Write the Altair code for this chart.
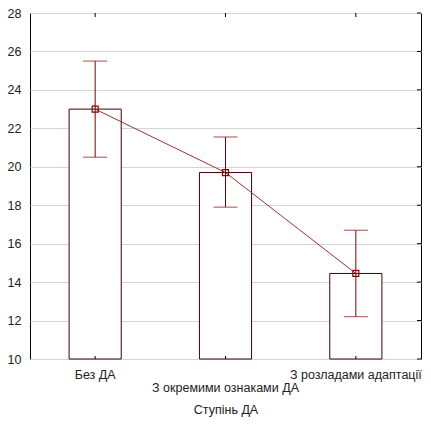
import altair as alt
import pandas as pd

categories = ["Без ДА", "З окремими ознаками ДА", "З розладами адаптації"]
means = [23.0, 19.7, 14.45]
lower = [20.5, 17.9, 12.2]
upper = [25.5, 21.55, 16.7]
y_ticks = [10, 12, 14, 16, 18, 20, 22, 24, 26, 28]

df = pd.DataFrame({"cat": categories, "mean": means, "lo": lower, "hi": upper})
tick_df = pd.DataFrame({"v": y_ticks})

FONT = "Liberation Sans"
W, H = 391, 346

x_axis = alt.Axis(
    labelAngle=0,
    ticks=False,
    domain=False,
    labelOverlap=False,
    labelPadding={
        "condition": {"test": "datum.value == 'З окремими ознаками ДА'", "value": 22},
        "value": 9,
    },
    labelFont=FONT,
    labelFontSize=12.5,
    labelColor="#222222",
    titleFont=FONT,
    titleFontSize=12.5,
    titleFontWeight="normal",
    titleColor="#222222",
    titlePadding=10,
)
x_scale = alt.Scale(paddingInner=0.6, paddingOuter=0.3)

y_axis = alt.Axis(
    values=y_ticks,
    ticks=False,
    domain=False,
    grid=True,
    gridColor="#d4d4d4",
    title=None,
    labelOverlap=False,
    labelPadding=9,
    labelFont=FONT,
    labelFontSize=12.5,
    labelColor="#222222",
)
y_scale = alt.Scale(domain=[10, 28], nice=False, zero=False)


def X():
    return alt.X("cat:N", sort=categories, title="Ступінь ДА", scale=x_scale, axis=x_axis)


def Y(field):
    return alt.Y(field, scale=y_scale, axis=y_axis)


bars = alt.Chart(df).mark_bar(fill="white", stroke="#400000", strokeWidth=1).encode(
    x=X(), y=Y("mean:Q"), y2=alt.datum(10)
)

err = alt.Chart(df).mark_rule(color="#800000", strokeWidth=1).encode(
    x=X(), y=Y("lo:Q"), y2="hi:Q"
)

cap_lo = alt.Chart(df).mark_tick(color="#800000", size=24, thickness=1).encode(
    x=X(), y=Y("lo:Q")
)
cap_hi = alt.Chart(df).mark_tick(color="#800000", size=24, thickness=1).encode(
    x=X(), y=Y("hi:Q")
)

line = alt.Chart(df).mark_line(color="#993333", strokeWidth=1).encode(
    x=X(), y=Y("mean:Q")
)

pts = alt.Chart(df).mark_point(
    shape="square", size=36, filled=False, stroke="#8b0000", strokeWidth=1.2, opacity=1
).encode(x=X(), y=Y("mean:Q"))

right_ticks = alt.Chart(tick_df).mark_rule(color="black", strokeWidth=1).encode(
    y=Y("v:Q"),
    x=alt.value({"expr": "width"}),
    x2=alt.value({"expr": "width - 4"}),
)

top_ticks = alt.Chart(df).mark_rule(color="black", strokeWidth=1).encode(
    x=X(), y=alt.value(0), y2=alt.value(4)
)
bottom_ticks = alt.Chart(df).mark_rule(color="black", strokeWidth=1).encode(
    x=X(),
    y=alt.value({"expr": "height"}),
    y2=alt.value({"expr": "height - 3"}),
)

chart = (
    alt.layer(bars, line, err, cap_lo, cap_hi, pts, right_ticks, top_ticks, bottom_ticks)
    .properties(
        width=W,
        height=H,
        autosize=alt.AutoSizeParams(type="none"),
        padding={"left": 22, "top": 5, "right": 2, "bottom": 59},
        background="white",
    )
    .configure_view(stroke="black", strokeWidth=1)
)

chart.save("out.html", embed_options={"renderer": "svg", "actions": False})
